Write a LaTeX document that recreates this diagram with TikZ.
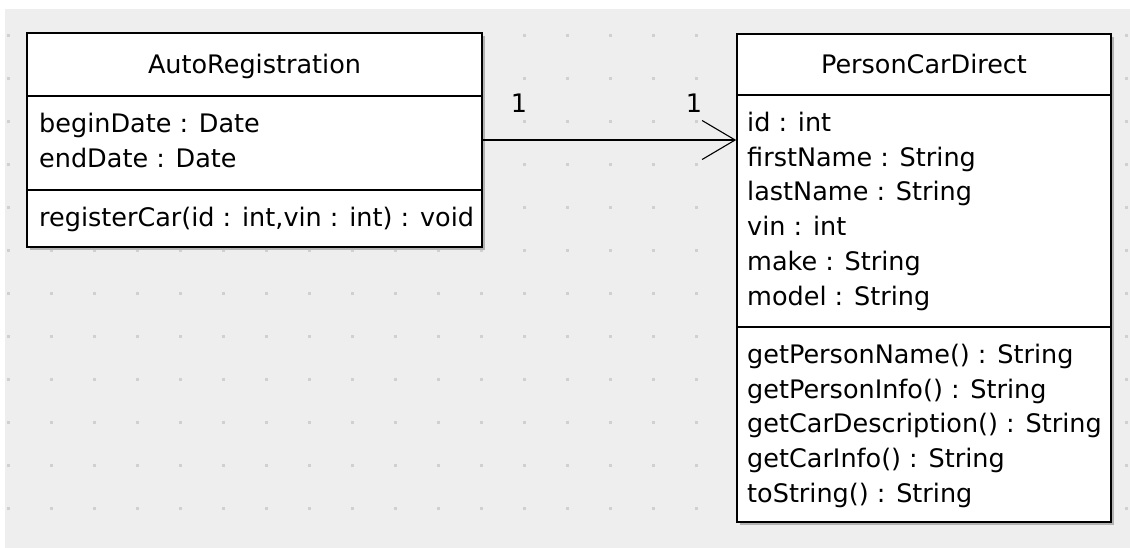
\documentclass[tikz,border=0pt]{standalone}
\usepackage{fontspec}
\setmainfont{DejaVu Sans}
\usetikzlibrary{arrows.meta}
\definecolor{bgcol}{HTML}{EEEEEE}
\definecolor{dotcol}{HTML}{D0D0D0}
\begin{document}
\begin{tikzpicture}[x=1pt,y=-1pt,
  classbox/.style={draw=black,line width=1.6pt,fill=white,inner sep=0pt,rectangle},
  shadowbox/.style={fill=black!30},
  txt/.style={inner sep=0pt,anchor=base west,font=\fontsize{25.5}{30}\selectfont},
  ttl/.style={inner sep=0pt,anchor=base,font=\fontsize{25.5}{30}\selectfont},
  mult/.style={inner sep=0pt,anchor=base,font=\fontsize{25.5}{30}\selectfont},
  divider/.style={line width=1.6pt},
  assoc/.style={line width=1.5pt,-{Straight Barb[length=33pt,width=39pt,line width=1.1pt]}}]
\useasboundingbox (0,0) rectangle (1130,547);
\fill[bgcol] (5,9) rectangle (1140,557);
\foreach \i in {0,...,26} {\foreach \j in {0,...,11} {\fill[dotcol] ({7+43*\i},{34+43*\j}) rectangle +(2.8,2.8);}}
% shadows
\fill[shadowbox] (29.5,35.5) rectangle (484.5,249.5);
\fill[shadowbox] (739.5,36.5) rectangle (1113.5,524.5);
% class boxes
\node[classbox,minimum width=455pt,minimum height=214pt] (ar) at (254.5,140) {};
\node[classbox,minimum width=374pt,minimum height=488pt] (pc) at (924,278) {};
% dividers
\coordinate (ard1) at (0,96);
\coordinate (ard2) at (0,190);
\coordinate (pcd1) at (0,95);
\coordinate (pcd2) at (0,327);
\draw[divider] (ar.west |- ard1) -- (ar.east |- ard1);
\draw[divider] (ar.west |- ard2) -- (ar.east |- ard2);
\draw[divider] (pc.west |- pcd1) -- (pc.east |- pcd1);
\draw[divider] (pc.west |- pcd2) -- (pc.east |- pcd2);
% AutoRegistration texts
\node[ttl] (art) at (254.5,73) {AutoRegistration};
\node[txt] (ara1) at (39,132) {beginDate : Date};
\node[txt] (ara2) at (39,167) {endDate : Date};
\node[txt] (arm1) at (39,226) {registerCar(id : int,vin : int) : void};
% PersonCarDirect texts
\node[ttl] (pct) at (924,73) {PersonCarDirect};
\node[txt] (pca1) at (747,131) {id : int};
\node[txt] (pca2) at (747,166) {firstName : String};
\node[txt] (pca3) at (747,200) {lastName : String};
\node[txt] (pca4) at (747,235) {vin : int};
\node[txt] (pca5) at (747,270) {make : String};
\node[txt] (pca6) at (747,305) {model : String};
\node[txt] (pcm1) at (747,363) {getPersonName() : String};
\node[txt] (pcm2) at (747,398) {getPersonInfo() : String};
\node[txt] (pcm3) at (747,432) {getCarDescription() : String};
\node[txt] (pcm4) at (747,467) {getCarInfo() : String};
\node[txt] (pcm5) at (747,502) {toString() : String};
% association
\draw[assoc] (ar.east) -- (ar.east -| pc.west);
\node[mult] (m1) at (519,112) {1};
\node[mult] (m2) at (694,112) {1};
\end{tikzpicture}
\end{document}
